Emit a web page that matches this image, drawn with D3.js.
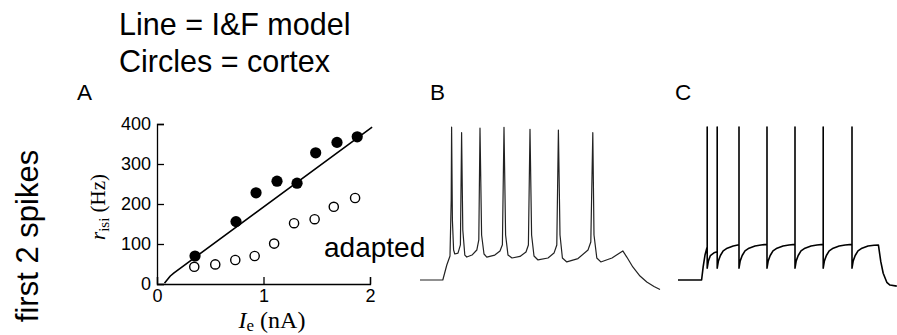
<!DOCTYPE html>
<html><head><meta charset="utf-8">
<script src="https://cdn.jsdelivr.net/npm/d3@7/dist/d3.min.js"></script>
<style>body{margin:0;background:#fff}svg{display:block}</style>
</head><body>
<svg id="c" width="897" height="335"></svg>
<script>
// ---- Panel A data (I_e in nA, r_isi in Hz) ----
const firstIe   = [0.357, 0.742, 0.93, 1.127, 1.315, 1.49, 1.69, 1.88];
const firstRate = [70, 156, 228, 257, 252, 328, 354, 368];
const adaptIe   = [0.35, 0.547, 0.735, 0.917, 1.10, 1.287, 1.48, 1.66, 1.86];
const adaptRate = [43, 49, 60, 70, 101, 152, 162, 193, 215];
const modelIe   = [0.07, 0.085, 0.10, 0.125, 0.16, 2.02];
const modelRate = [2, 7, 12, 20, 28, 392];
const xTicks = [0, 1, 2];
const yTicks = [0, 100, 200, 300, 400];

// ---- Panel B: cortical recording (t in ms, V in mV) ----
const traceBt = [0,57,67,75,78,79,81,84,87,95,101,104,107,112,117,130,142,147,150,154,160,167,187,200,206,210,214,220,230,250,265,271,275,279,285,295,320,335,342,346,350,356,367,395,420,427,432,435,442,452,480,507,517,532,550,567,585,600];
const traceBv = [-70,-70,-60.2,-54.3,-17.7,30,-30.8,-50.4,-53,-52.4,-47,26.3,-37.3,-53.7,-55,-53.7,-50.4,-43.8,29.2,-40.6,-53,-55,-53.7,-51,-47,29.8,-40.6,-53.7,-55.6,-54.6,-51.7,-47.1,28.5,-40.6,-54.3,-56.9,-55.6,-52.4,-47.1,28,-40.6,-55.6,-58.2,-56,-50.4,-45.2,26.3,-40.6,-55.6,-58.2,-55.6,-51,-55,-61.5,-67.4,-71.3,-74.2,-76.2];

// ---- Panel C: integrate-and-fire model (t in ms, V in mV) ----
const traceCt = [0,59,63,67.5,72,73,73,73,76,81,90,98,98,98,101,106,113,123,138,152.5,152.5,152.5,155.5,160.5,167.5,177.5,192.5,207.5,222.5,222.5,222.5,225.5,230.5,237.5,247.5,262.5,277.5,292.5,292.5,292.5,295.5,300.5,307.5,317.5,332.5,347.5,363,363,363,366,371,378,388,403,418,435,435,435,438,443,450,460,475,490,501,507,513,522,530,547];
const traceCv = [-70,-70,-61.3,-53.7,-49.3,-48.5,30,-62.3,-57.5,-54,-52.2,-51.5,30,-62.3,-57.5,-54,-51,-49.2,-47.8,-46.9,30,-62.3,-57.5,-54,-51,-49.2,-47.8,-47.1,-46.7,30,-62.3,-57.5,-54,-51,-49.2,-47.8,-47.1,-46.7,30,-62.3,-57.5,-54,-51,-49.2,-47.8,-47.1,-46.7,30,-62.3,-57.5,-54,-51,-49.2,-47.8,-47.1,-46.7,30,-62.3,-57.5,-54,-51,-49.2,-47.8,-47.3,-47.1,-58,-65.6,-71.5,-73.3,-74];

const svg = d3.select("#c");
const SANS = "'Liberation Sans', Arial, Helvetica, sans-serif";
const SERIF = "'Liberation Serif', 'Times New Roman', serif";

// Titles
svg.append("text").attr("x", 119).attr("y", 35).attr("font-family", SANS).attr("font-size", 30.5).text("Line = I&F model");
svg.append("text").attr("x", 119).attr("y", 71.5).attr("font-family", SANS).attr("font-size", 30.5).text("Circles = cortex");
[["A", 77], ["B", 430], ["C", 675]].forEach(([t, x]) =>
  svg.append("text").attr("x", x).attr("y", 100).attr("font-family", SANS).attr("font-size", 22.5).text(t));

svg.append("text").attr("transform", "translate(38,236) rotate(-90)")
  .attr("text-anchor", "middle").attr("font-family", SANS).attr("font-size", 31).text("first 2 spikes");

// ---- Panel A ----
const x = d3.scaleLinear().domain([0, 2]).range([157, 370]);
const y = d3.scaleLinear().domain([0, 400]).range([284, 124]);

const gx = svg.append("g").attr("transform", `translate(0,${y(0)})`)
  .call(d3.axisBottom(x).tickValues(xTicks).tickFormat(d3.format("d")).tickSizeInner(-7).tickSizeOuter(-7).tickPadding(5));
const gy = svg.append("g").attr("transform", `translate(${x(0)},0)`)
  .call(d3.axisLeft(y).tickValues(yTicks).tickSizeInner(-7).tickSizeOuter(-7).tickPadding(6));
[gx, gy].forEach(g => {
  g.selectAll("path,line").attr("stroke", "#000").attr("stroke-width", 1.3);
  g.selectAll("text").attr("font-family", SANS).attr("font-size", 18).attr("fill", "#000");
});

const lineA = d3.line().x((d, i) => x(modelIe[i])).y((d, i) => y(modelRate[i]));
svg.append("path").attr("d", lineA(modelIe)).attr("fill", "none").attr("stroke", "#000")
  .attr("stroke-width", 1.6).attr("stroke-linejoin", "round");

svg.append("g").selectAll("circle").data(adaptIe).join("circle")
  .attr("cx", (d) => x(d)).attr("cy", (d, i) => y(adaptRate[i])).attr("r", 4.6)
  .attr("fill", "#fff").attr("stroke", "#000").attr("stroke-width", 1.4);
svg.append("g").selectAll("circle").data(firstIe).join("circle")
  .attr("cx", (d) => x(d)).attr("cy", (d, i) => y(firstRate[i])).attr("r", 5.6).attr("fill", "#000");

const yl = svg.append("text").attr("transform", "translate(105,207) rotate(-90)")
  .attr("text-anchor", "middle").attr("font-family", SERIF).attr("font-size", 21);
yl.append("tspan").attr("font-style", "italic").text("r");
yl.append("tspan").attr("font-size", 15).attr("dy", 4).text("isi");
yl.append("tspan").attr("dy", -4).text(" (Hz)");

const xl = svg.append("text").attr("x", 272).attr("y", 328)
  .attr("text-anchor", "middle").attr("font-family", SERIF).attr("font-size", 24);
xl.append("tspan").attr("font-style", "italic").text("I");
xl.append("tspan").attr("font-size", 17).attr("dy", 2.5).text("e");
xl.append("tspan").attr("dy", -2.5).text(" (nA)");

svg.append("text").attr("x", 324).attr("y", 257).attr("font-family", SANS).attr("font-size", 28).text("adapted");

// ---- Panel B ----
const xB = d3.scaleLinear().domain([0, 600]).range([420, 660]);
const yV = d3.scaleLinear().domain([-70, 30]).range([280, 127]);
const lineB = d3.line().x((d, i) => xB(traceBt[i])).y((d, i) => yV(traceBv[i]));
svg.append("path").attr("d", lineB(traceBt)).attr("fill", "none").attr("stroke", "#222")
  .attr("stroke-width", 1.2).attr("stroke-linejoin", "round");

// ---- Panel C ----
const xC = d3.scaleLinear().domain([0, 550]).range([678, 898]);
const lineC = d3.line().x((d, i) => xC(traceCt[i])).y((d, i) => yV(traceCv[i]));
svg.append("path").attr("d", lineC(traceCt)).attr("fill", "none").attr("stroke", "#000")
  .attr("stroke-width", 1.6).attr("stroke-linejoin", "round");
</script>
</body></html>
